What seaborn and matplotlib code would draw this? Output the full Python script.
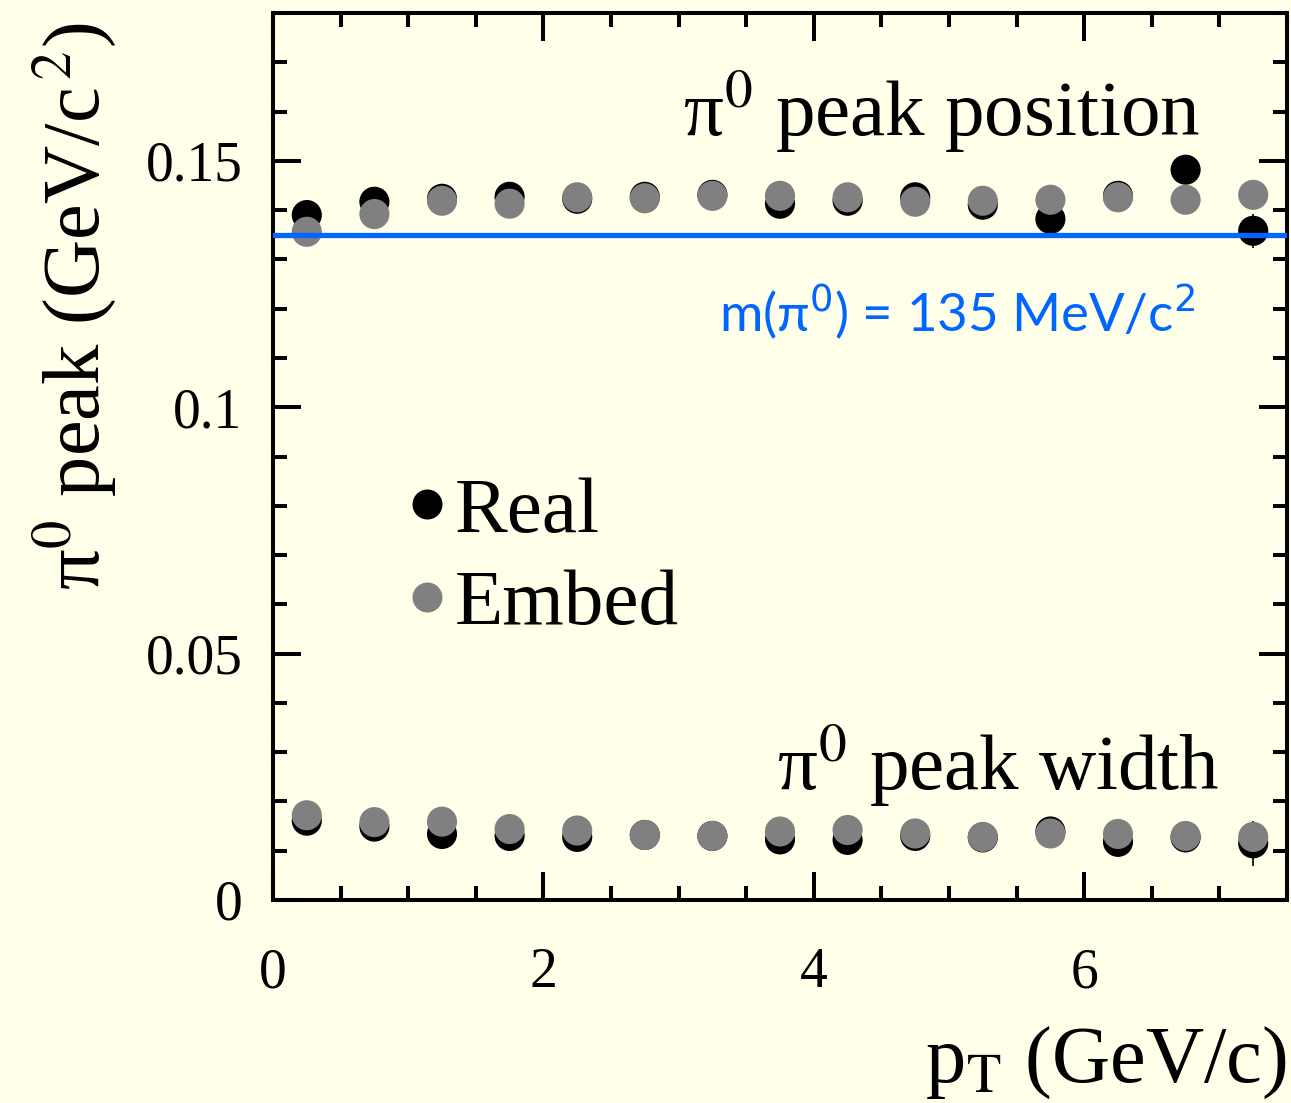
import numpy as np
import pandas as pd
import matplotlib
matplotlib.use("Agg")
import matplotlib.pyplot as plt
import seaborn as sns
from matplotlib.ticker import MultipleLocator, FixedLocator, FixedFormatter
from matplotlib.lines import Line2D

# ---------------- data ----------------
pt = [0.25, 0.75, 1.25, 1.75, 2.25, 2.75, 3.25, 3.75, 4.25, 4.75, 5.25, 5.75, 6.25, 6.75, 7.25]
real_peak = [0.1390, 0.1417, 0.1423, 0.1427, 0.1423, 0.1427, 0.1431, 0.1413, 0.1419,
             0.1426, 0.1411, 0.1382, 0.1429, 0.1482, 0.1358]
embed_peak = [0.1356, 0.1392, 0.1419, 0.1413, 0.1426, 0.1424, 0.1429, 0.1429, 0.1426,
              0.1417, 0.1419, 0.1421, 0.1426, 0.1421, 0.1431]
real_width = [0.0161, 0.0149, 0.0134, 0.0130, 0.0128, 0.0132, 0.0130, 0.0123, 0.0122,
              0.0130, 0.0127, 0.0139, 0.0118, 0.0127, 0.0115]
embed_width = [0.0172, 0.0158, 0.0159, 0.0144, 0.0141, 0.0132, 0.0130, 0.0139, 0.0142,
               0.0135, 0.0128, 0.0135, 0.0134, 0.0130, 0.0128]
real_peak_err = [0.001] * 14 + [0.0035]
real_width_err = [0.001] * 14 + [0.0045]
pi0_mass = 0.135
series_names = ["Real", "Embed"]
series_colors = {"Real": "#000000", "Embed": "#808080"}
x_ticks = [0, 2, 4, 6]
y_ticks = [0, 0.05, 0.1, 0.15]
y_tick_labels = ["0", "0.05", "0.1", "0.15"]

df = pd.concat([
    pd.DataFrame({"pt": pt, "val": real_peak, "sample": "Real", "kind": "peak"}),
    pd.DataFrame({"pt": pt, "val": real_width, "sample": "Real", "kind": "width"}),
    pd.DataFrame({"pt": pt, "val": embed_peak, "sample": "Embed", "kind": "peak"}),
    pd.DataFrame({"pt": pt, "val": embed_width, "sample": "Embed", "kind": "width"}),
], ignore_index=True)

# ---------------- style ----------------
bg = "#FFFFEA"
sns.set_style("ticks")
plt.rcParams["font.family"] = ["Liberation Serif", "DejaVu Serif"]
plt.rcParams["mathtext.fontset"] = "stix"
plt.rcParams["text.color"] = "black"
plt.rcParams["axes.labelcolor"] = "black"
plt.rcParams["xtick.color"] = "black"
plt.rcParams["ytick.color"] = "black"

fig = plt.figure(figsize=(12.91, 11.03), dpi=100, facecolor=bg)
ax = fig.add_axes([273 / 1291, 1 - 900 / 1103, (1287 - 273) / 1291, (900 - 13) / 1103])
ax.set_facecolor(bg)

# error bars for Real (mostly hidden below markers)
ax.errorbar(pt, real_peak, yerr=real_peak_err, fmt="none", ecolor="black", elinewidth=1.2, zorder=2)
ax.errorbar(pt, real_width, yerr=real_width_err, fmt="none", ecolor="black", elinewidth=1.2, zorder=2)

sns.scatterplot(data=df, x="pt", y="val", hue="sample", hue_order=series_names,
                palette=series_colors, s=470, linewidth=0, legend=False, ax=ax, zorder=3)

ax.axhline(pi0_mass, color="#0066FF", lw=3.8, zorder=4)

ax.set_xlim(0, 7.5)
ax.set_ylim(0, 0.18)
ax.xaxis.set_major_locator(FixedLocator(x_ticks))
ax.xaxis.set_minor_locator(MultipleLocator(0.5))
ax.yaxis.set_major_locator(FixedLocator(y_ticks))
ax.yaxis.set_major_formatter(FixedFormatter(y_tick_labels))
ax.yaxis.set_minor_locator(MultipleLocator(0.01))

for s in ax.spines.values():
    s.set_linewidth(2.9)
    s.set_color("black")

ax.tick_params(which="both", direction="in", top=True, right=True, width=2.9, color="black")
ax.tick_params(which="major", length=20)
ax.tick_params(which="minor", length=10)
ax.tick_params(axis="x", which="major", labelsize=40, pad=34, labelcolor="black")
ax.tick_params(axis="y", which="major", labelsize=40, pad=22, labelcolor="black")

ax.set_xlabel("p$_{\\rm T}$ (GeV/c)", fontsize=58, loc="right", labelpad=18)
ax.set_ylabel("π$^{0}$ peak (GeV/c$^{\\,2}$)", fontsize=58, loc="top")
ax.yaxis.set_label_coords(-0.152, 0.99)

ax.text(6.86, 0.155, "π$^{0}$ peak position", fontsize=57, ha="right", va="baseline")
ax.text(7.0, 0.0224, "π$^{0}$ peak width", fontsize=57, ha="right", va="baseline")
ax.text(6.82, 0.1154, "m(π$^{0}$) = 135 MeV/c$^{2}$", fontsize=38, ha="right", va="baseline",
        color="#0066FF", family=["Lato", "DejaVu Sans"], math_fontfamily="dejavusans")

handles = [Line2D([0], [0], marker="o", ls="none", markersize=21.6, markeredgewidth=0,
                  markerfacecolor=series_colors[n]) for n in series_names]
ax.legend(handles, series_names, loc="upper left", bbox_to_anchor=(0.101, 0.513),
          frameon=False, fontsize=57, handlelength=0.5, handletextpad=0.1,
          labelspacing=0.25, borderaxespad=0)

fig.savefig("out.png", dpi=100, facecolor=bg)
